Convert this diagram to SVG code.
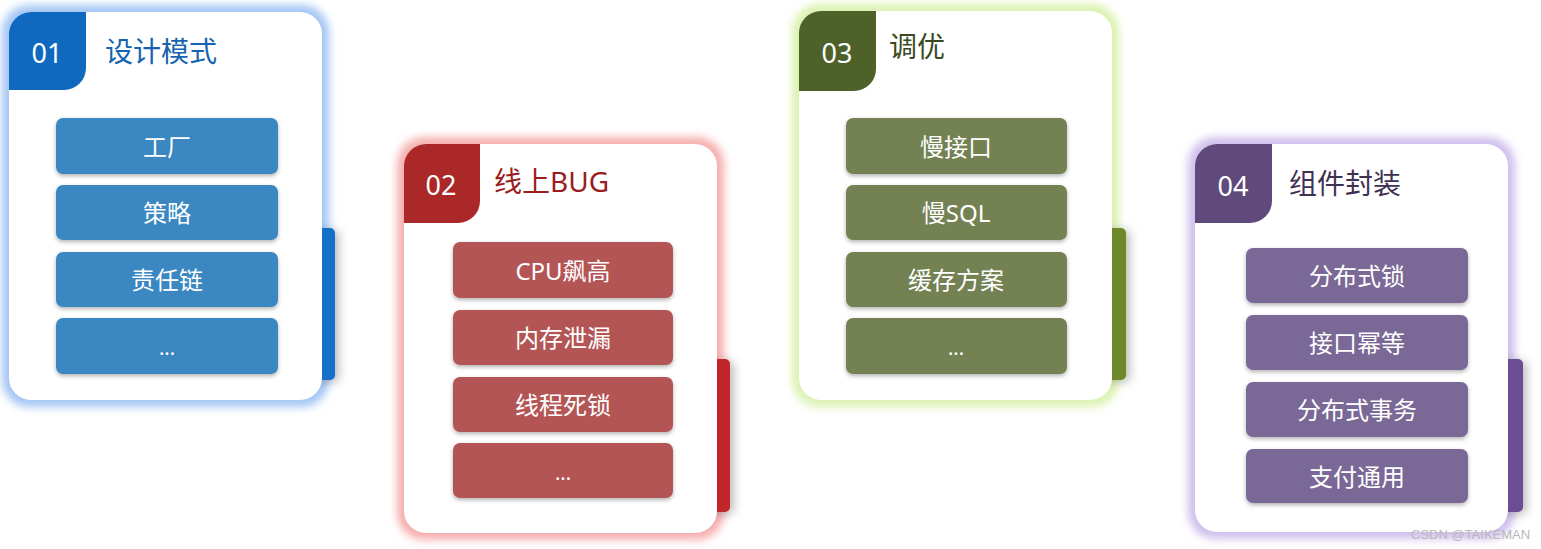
<svg xmlns="http://www.w3.org/2000/svg" width="1541" height="549" viewBox="0 0 1541 549">
<defs>
<filter id="glow" x="-20%" y="-20%" width="140%" height="140%"><feGaussianBlur stdDeviation="4.5"/></filter>
<filter id="barsh" x="-100%" y="-20%" width="400%" height="140%"><feDropShadow dx="4" dy="2" stdDeviation="5" flood-color="#000" flood-opacity="0.25"/></filter>
<filter id="itemsh" x="-10%" y="-20%" width="120%" height="160%"><feDropShadow dx="0" dy="2" stdDeviation="2" flood-color="#000" flood-opacity="0.3"/></filter>
</defs>
<style>
text{font-family:"Noto Sans","Noto Sans CJK SC",sans-serif;dominant-baseline:central;}
.num{font-size:27px;fill:#fff;text-anchor:middle;}
.title{font-size:28px;}
.item text{font-size:24px;fill:#fff;text-anchor:middle;}
.item text.dots{font-size:20px;}
.card{fill:#fff;}
.it{filter:url(#itemsh);}
.wm{font-family:"Liberation Sans",sans-serif;font-size:13px;fill:#b8b8b8;dominant-baseline:auto;}
</style>
<rect width="1541" height="549" fill="#fff"/>

<g id="card01">
<rect x="2" y="5" width="327" height="402" rx="27" fill="#a3c6f4" filter="url(#glow)"/>
<rect x="310" y="228" width="25" height="152" rx="5" fill="#1270C8" filter="url(#barsh)"/>
<rect class="card" x="9" y="12" width="313" height="388" rx="22"/>
<path d="M9,34 A22,22 0 0 1 31,12 H86 V68 A22,22 0 0 1 64,90 H9 Z" fill="#0F69BE"/>
<text class="num" x="47" y="52">01</text>
<text class="title" x="105" y="51" fill="#1763B0">设计模式</text>
<g class="item" fill="#3B87C1">
<rect class="it" x="56" y="118" width="222" height="56" rx="7"/><text x="167" y="146">工厂</text>
<rect class="it" x="56" y="185" width="222" height="55" rx="7"/><text x="167" y="212">策略</text>
<rect class="it" x="56" y="252" width="222" height="55" rx="7"/><text x="167" y="279">责任链</text>
<rect class="it" x="56" y="318" width="222" height="56" rx="7"/><text class="dots" x="167" y="347">...</text>
</g>
</g>

<g id="card02">
<rect x="397" y="137" width="327" height="403" rx="27" fill="#f6aeae" filter="url(#glow)"/>
<rect x="705" y="359" width="25" height="153" rx="5" fill="#C0282A" filter="url(#barsh)"/>
<rect class="card" x="404" y="144" width="313" height="389" rx="22"/>
<path d="M404,166 A22,22 0 0 1 426,144 H480 V201 A22,22 0 0 1 458,223 H404 Z" fill="#AA2828"/>
<text class="num" x="441" y="184">02</text>
<text class="title" x="494" y="181" fill="#9B1C1C">线上BUG</text>
<g class="item" fill="#B35555">
<rect class="it" x="453" y="242" width="220" height="56" rx="7"/><text x="563" y="270">CPU飙高</text>
<rect class="it" x="453" y="310" width="220" height="55" rx="7"/><text x="563" y="337">内存泄漏</text>
<rect class="it" x="453" y="377" width="220" height="55" rx="7"/><text x="563" y="404">线程死锁</text>
<rect class="it" x="453" y="443" width="220" height="55" rx="7"/><text class="dots" x="563" y="472">...</text>
</g>
</g>

<g id="card03">
<rect x="792" y="4" width="327" height="403" rx="27" fill="#dbf2b0" filter="url(#glow)"/>
<rect x="1100" y="228" width="26" height="152" rx="5" fill="#6C8A2C" filter="url(#barsh)"/>
<rect class="card" x="799" y="11" width="313" height="389" rx="22"/>
<path d="M799,33 A22,22 0 0 1 821,11 H876 V69 A22,22 0 0 1 854,91 H799 Z" fill="#4E6128"/>
<text class="num" x="837" y="52">03</text>
<text class="title" x="889" y="46" fill="#3B4A1E">调优</text>
<g class="item" fill="#738152">
<rect class="it" x="846" y="118" width="221" height="56" rx="7"/><text x="956" y="146">慢接口</text>
<rect class="it" x="846" y="185" width="221" height="55" rx="7"/><text x="956" y="212">慢SQL</text>
<rect class="it" x="846" y="252" width="221" height="55" rx="7"/><text x="956" y="279">缓存方案</text>
<rect class="it" x="846" y="318" width="221" height="56" rx="7"/><text class="dots" x="956" y="347">...</text>
</g>
</g>

<g id="card04">
<rect x="1188" y="137" width="327" height="402" rx="27" fill="#cfbfec" filter="url(#glow)"/>
<rect x="1496" y="359" width="27" height="153" rx="5" fill="#6A4E92" filter="url(#barsh)"/>
<rect class="card" x="1195" y="144" width="313" height="388" rx="22"/>
<path d="M1195,166 A22,22 0 0 1 1217,144 H1272 V201 A22,22 0 0 1 1250,223 H1195 Z" fill="#5F4A7B"/>
<text class="num" x="1233" y="185">04</text>
<text class="title" x="1289" y="183" fill="#3F3151">组件封装</text>
<g class="item" fill="#7A6796">
<rect class="it" x="1246" y="248" width="222" height="55" rx="7"/><text x="1357" y="275">分布式锁</text>
<rect class="it" x="1246" y="315" width="222" height="55" rx="7"/><text x="1357" y="342">接口幂等</text>
<rect class="it" x="1246" y="382" width="222" height="55" rx="7"/><text x="1357" y="409">分布式事务</text>
<rect class="it" x="1246" y="449" width="222" height="54" rx="7"/><text x="1357" y="476">支付通用</text>
</g>
</g>

<text class="wm" x="1411" y="539">CSDN @TAIKEMAN</text>
</svg>
